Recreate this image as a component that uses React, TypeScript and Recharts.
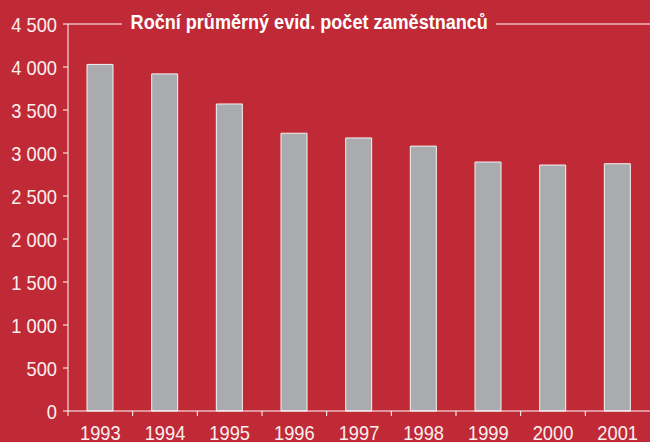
import { Bar, BarChart, XAxis, YAxis, ReferenceLine } from "recharts"

const years = ["1993", "1994", "1995", "1996", "1997", "1998", "1999", "2000", "2001"]
const employees = [4030, 3920, 3570, 3230, 3175, 3080, 2895, 2860, 2875]
const yTicks = [0, 500, 1000, 1500, 2000, 2500, 3000, 3500, 4000, 4500]
const title = "Roční průměrný evid. počet zaměstnanců"

const data = years.map((year, i) => ({ year, employees: employees[i] }))

const W = 650
const H = 442
const Y_AXIS_W = 68
const BG = "#c02a37"
const TEXT = "#fbeeee"
const FONT = "'Liberation Sans', Arial, sans-serif"
const SQUEEZE = 0.87 // no condensed font installed, so narrow the glyphs by hand

const fmt = (v: number) => String(v).replace(/\B(?=(\d{3})+(?!\d))/g, " ")

function YearTick(props: any) {
  const { x, y, payload } = props
  const half = (W - Y_AXIS_W) / years.length / 2
  return (
    <g>
      <line x1={x - half} x2={x - half} y1={y} y2={y + 5} stroke="#fff" strokeWidth={1} />
      <text
        transform={`translate(${x},${y + 29}) scale(${SQUEEZE},1)`}
        textAnchor="middle"
        fill={TEXT}
        fontSize={21}
        fontFamily={FONT}
      >
        {payload.value}
      </text>
    </g>
  )
}

function ValueTick(props: any) {
  const { x, y, payload } = props
  return (
    <text
      transform={`translate(${x},${y}) scale(${SQUEEZE},1)`}
      dy="0.36em"
      textAnchor="end"
      fill={TEXT}
      fontSize={21}
      fontFamily={FONT}
    >
      {fmt(payload.value)}
    </text>
  )
}

export default function App() {
  return (
    <div style={{ position: "absolute", left: 0, top: 0, width: W, height: H, background: BG, overflow: "hidden" }}>
      <BarChart width={W} height={H} data={data} margin={{ top: 24, right: 0, left: 0, bottom: 0 }}>
        <ReferenceLine y={4500} stroke="#fff" strokeWidth={1} />
        <XAxis
          dataKey="year"
          height={31}
          axisLine={{ stroke: "#fff", strokeWidth: 1 }}
          tickLine={false}
          tickSize={0}
          tickMargin={0}
          tick={<YearTick />}
          interval={0}
        />
        <YAxis
          width={Y_AXIS_W}
          domain={[0, 4500]}
          ticks={yTicks}
          axisLine={{ stroke: "#fff", strokeWidth: 1 }}
          tickLine={{ stroke: "#fff", strokeWidth: 1 }}
          tickSize={5}
          tickMargin={6}
          tick={<ValueTick />}
          interval={0}
        />
        <Bar dataKey="employees" fill="#a9abae" stroke="#f4f4f4" strokeWidth={1} barSize={26} isAnimationActive={false} />
      </BarChart>
      <div
        style={{
          position: "absolute",
          left: 122,
          top: 10,
          padding: "0 10px",
          background: BG,
          color: "#fff",
          fontFamily: FONT,
          fontWeight: "bold",
          fontSize: 21,
          lineHeight: "24px",
          whiteSpace: "nowrap",
          transform: "scaleX(0.86)",
          transformOrigin: "left center",
        }}
      >
        {title}
      </div>
    </div>
  )
}
